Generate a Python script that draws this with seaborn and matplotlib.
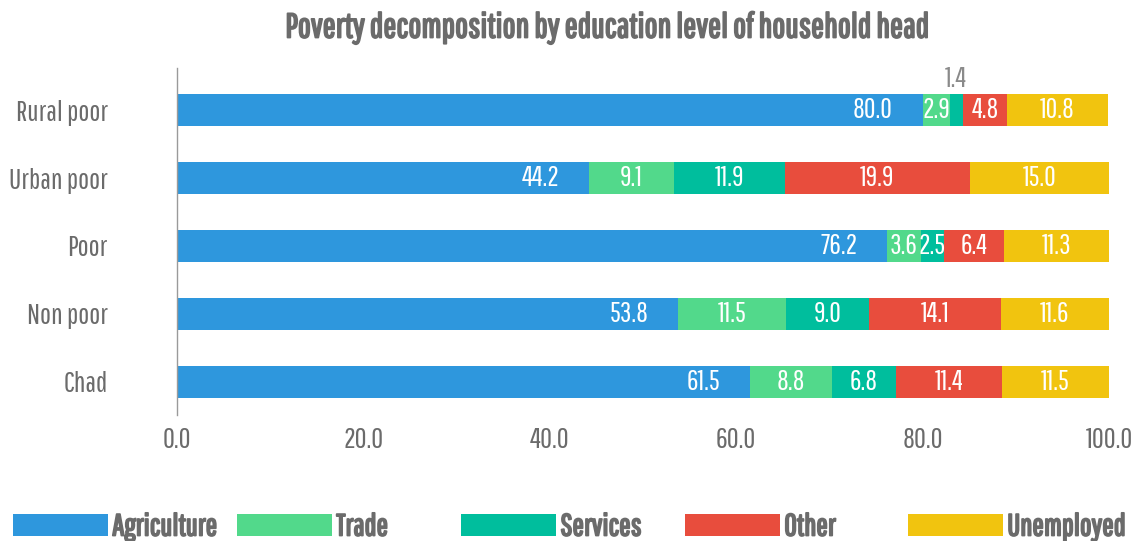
import matplotlib
matplotlib.use("Agg")
import matplotlib.pyplot as plt
import matplotlib.patheffects as pe
from matplotlib.patches import Patch
import pandas as pd
import seaborn as sns

# ---- data -------------------------------------------------------------
groups = ["Rural poor", "Urban poor", "Poor", "Non poor", "Chad"]
sectors = ["Agriculture", "Trade", "Services", "Other", "Unemployed"]
agriculture = [80.0, 44.2, 76.2, 53.8, 61.5]
trade = [2.9, 9.1, 3.6, 11.5, 8.8]
services = [1.4, 11.9, 2.5, 9.0, 6.8]
other = [4.8, 19.9, 6.4, 14.1, 11.4]
unemployed = [10.8, 15.0, 11.3, 11.6, 11.5]
x_ticks = [0, 20, 40, 60, 80, 100]
title = "Poverty decomposition by education level of household head"

colors = ["#2E97DD", "#52D98B", "#00BE9D", "#E84D3D", "#F1C40F"]
grey = "#6B6B6B"
font = "Pathway Gothic One"

sns.set_theme(style="white")
plt.rcParams["font.family"] = [font, "DejaVu Sans"]


def heavy(color):
    # synthetic bold: outline the glyphs in their own colour
    return [pe.withStroke(linewidth=1.3, foreground=color)]


df = pd.DataFrame({"group": groups, "Agriculture": agriculture, "Trade": trade,
                   "Services": services, "Other": other, "Unemployed": unemployed})
cum = df[sectors].cumsum(axis=1)

fig = plt.figure(figsize=(11.32, 5.41), dpi=100)
ax = fig.add_axes([177 / 1132, 1 - 415 / 541, (1109 - 177) / 1132, (415 - 68) / 541])

# stacked bars: draw cumulative totals from the outermost segment inwards
for sector, color in reversed(list(zip(sectors, colors))):
    sns.barplot(x=cum[sector], y=df["group"], order=groups, color=color,
                width=0.47, orient="h", linewidth=0, saturation=1, ax=ax)

# segment value labels
for i, g in enumerate(groups):
    left = 0.0
    for j, s in enumerate(sectors):
        v = df.loc[i, s]
        if j == 0:
            ax.text(left + v - 3.2, i, f"{v:.1f}", ha="right", va="center",
                    color="white", fontsize=20.5)
        elif v < 2:
            ax.text(left + v / 2, i - 0.27, f"{v:.1f}", ha="center", va="bottom",
                    color="#8A8A8A", fontsize=20.5)
        else:
            ax.text(left + v / 2, i, f"{v:.1f}", ha="center", va="center",
                    color="white", fontsize=20.5)
        left += v

ax.set_xlim(0, 100)
ax.set_ylim(4.49, -0.62)
ax.set_xticks(x_ticks)
ax.set_xticklabels([f"{t:.1f}" for t in x_ticks])
ax.set_xlabel("")
ax.set_ylabel("")
ax.tick_params(axis="x", length=0, pad=9, labelsize=21, labelcolor=grey)
ax.tick_params(axis="y", length=0, pad=50, labelsize=21, labelcolor=grey)
for side in ["top", "right", "bottom"]:
    ax.spines[side].set_visible(False)
ax.spines["left"].set_color("#9A9A9A")
ax.spines["left"].set_linewidth(1.0)

fig.text(608 / 1132, 1 - 28 / 541, title, ha="center", va="center",
         fontsize=24.8, color=grey, path_effects=heavy(grey))

# legend: evenly spaced entries along the bottom
legend_x = [13, 237, 461, 685, 908]
for s, c, lx in zip(sectors, colors, legend_x):
    leg = fig.legend(handles=[Patch(facecolor=c, edgecolor="none")], labels=[s],
                     loc="center left", bbox_to_anchor=(lx / 1132, 1 - 527 / 541),
                     frameon=False, borderpad=0, borderaxespad=0,
                     handlelength=3.1, handleheight=0.75, handletextpad=0.15,
                     prop={"family": font, "size": 22})
    for t in leg.get_texts():
        t.set_color(grey)
        t.set_path_effects(heavy(grey))

fig.savefig("out.png", dpi=100)
